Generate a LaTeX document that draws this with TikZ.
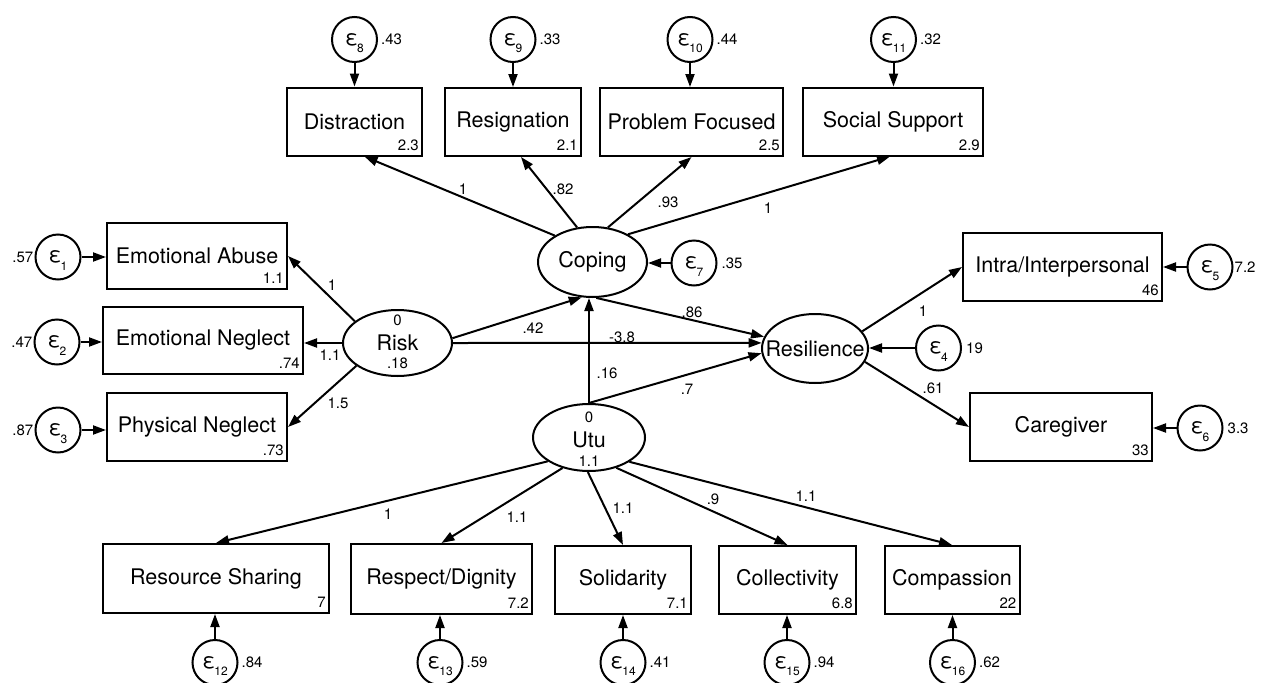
\documentclass[tikz,border=0pt]{standalone}
\usepackage{fontspec}
\setmainfont{TeX Gyre Heros}
\usetikzlibrary{shapes.geometric,arrows.meta,calc}
\newcommand{\bigf}{\fontsize{21.5}{25}\selectfont}
\newcommand{\smf}{\fontsize{15}{17}\selectfont}
\newcommand{\eps}[1]{ε\raisebox{-7.5pt}[0pt][0pt]{\kern-1pt\fontsize{12}{12}\selectfont #1}}
\tikzset{
  obs/.style={draw, line width=2pt, rectangle, minimum height=68pt, inner sep=0pt, font=\bigf},
  lat/.style={draw, line width=2pt, ellipse, inner sep=0pt, font=\bigf},
  err/.style={draw, line width=2pt, circle, minimum size=45pt, inner sep=0pt, font=\bigf},
  arr/.style={line width=2pt, -{Triangle[length=13pt,width=9pt]}},
  num/.style={inner sep=0pt, font=\smf},
  bnum/.style={num, anchor=south east},
}
\begin{document}
\begin{tikzpicture}[x=1pt,y=-1pt]
\path[use as bounding box] (0,0) rectangle (1262,683);
% observed boxes
\node[obs, minimum width=135pt] (dist) at (354.5,121.5) {Distraction};
\node[obs, minimum width=136pt] (resig) at (513,122) {Resignation};
\node[obs, minimum width=183pt] (prob) at (691.5,122) {Problem Focused};
\node[obs, minimum width=180pt] (soc) at (893,121.5) {Social Support};
\node[obs, minimum width=180pt, minimum height=66pt] (ea) at (197,256) {Emotional Abuse};
\node[obs, minimum width=200pt, minimum height=67pt] (en) at (203,340.5) {Emotional Neglect};
\node[obs, minimum width=180pt] (pn) at (197,427) {Physical Neglect};
\node[obs, minimum width=199pt] (intra) at (1062.5,267) {Intra/Interpersonal};
\node[obs, minimum width=182pt] (care) at (1061,427) {Caregiver};
\node[obs, minimum width=226pt, minimum height=69pt] (rs) at (216,578.5) {Resource Sharing};
\node[obs, minimum width=181pt, minimum height=70pt] (rd) at (441.5,579) {Respect/Dignity};
\node[obs, minimum width=136pt] (sol) at (623,580) {Solidarity};
\node[obs, minimum width=137pt] (col) at (787.5,580) {Collectivity};
\node[obs, minimum width=135pt] (comp) at (952,580) {Compassion};
% box numbers
\node[bnum] (distn) at ([xshift=-4pt,yshift=6pt]dist.south east) {2.3};
\node[bnum] (resign) at ([xshift=-4pt,yshift=6pt]resig.south east) {2.1};
\node[bnum] (probn) at ([xshift=-4pt,yshift=6pt]prob.south east) {2.5};
\node[bnum] (socn) at ([xshift=-4pt,yshift=6pt]soc.south east) {2.9};
\node[bnum] (ean) at ([xshift=-4pt,yshift=6pt]ea.south east) {1.1};
\node[bnum] (enn) at ([xshift=-4pt,yshift=6pt]en.south east) {.74};
\node[bnum] (pnn) at ([xshift=-4pt,yshift=6pt]pn.south east) {.73};
\node[bnum] (intran) at ([xshift=-4pt,yshift=6pt]intra.south east) {46};
\node[bnum] (caren) at ([xshift=-4pt,yshift=6pt]care.south east) {33};
\node[bnum] (rsn) at ([xshift=-4pt,yshift=6pt]rs.south east) {7};
\node[bnum] (rdn) at ([xshift=-4pt,yshift=6pt]rd.south east) {7.2};
\node[bnum] (soln) at ([xshift=-4pt,yshift=6pt]sol.south east) {7.1};
\node[bnum] (coln) at ([xshift=-4pt,yshift=6pt]col.south east) {6.8};
\node[bnum] (compn) at ([xshift=-4pt,yshift=6pt]comp.south east) {22};
% latent variables
\node[lat, minimum width=109pt, minimum height=70pt] (cop) at (592.5,262) {\makebox[0pt]{Coping}};
\node[lat, minimum width=109pt, minimum height=66pt] (risk) at (397.5,343) {\makebox[0pt]{Risk}};
\node[lat, minimum width=106pt, minimum height=69pt] (res) at (815,348.5) {\makebox[0pt]{Resilience}};
\node[lat, minimum width=112pt, minimum height=67pt] (utu) at (589,437.5) {};
\node[font=\bigf, inner sep=0pt] (utut) at (589,440) {Utu};
\node[num] (utu0) at (589,417) {0};
\node[num] (utuv) at (589,461) {1.1};
\node[num] (risk0) at (397.5,320) {0};
\node[num] (riskv) at (397.5,363) {.18};
% error terms
\node[err] (e1) at (58,257) {\eps{1}};
\node[err] (e2) at (57,342) {\eps{2}};
\node[err] (e3) at (58,430) {\eps{3}};
\node[err] (e4) at (938.5,348) {\eps{4}};
\node[err] (e5) at (1210,267) {\eps{5}};
\node[err] (e6) at (1200,428) {\eps{6}};
\node[err] (e7) at (694,263) {\eps{7}};
\node[err] (e8) at (354.5,39.5) {\eps{8}};
\node[err] (e9) at (513,39.5) {\eps{9}};
\node[err] (e10) at (690,39.5) {\eps{10}};
\node[err] (e11) at (893.5,39.5) {\eps{11}};
\node[err] (e12) at (215,662.5) {\eps{12}};
\node[err] (e13) at (440,662.5) {\eps{13}};
\node[err] (e14) at (623,662.5) {\eps{14}};
\node[err] (e15) at (787,662.5) {\eps{15}};
\node[err] (e16) at (952.5,662.5) {\eps{16}};
% error variances
\node[num, anchor=east] (v1) at ([xshift=-1pt]e1.west) {.57};
\node[num, anchor=east] (v2) at ([xshift=-1pt]e2.west) {.47};
\node[num, anchor=east] (v3) at ([xshift=-1pt]e3.west) {.87};
\node[num, anchor=west] (v4) at ([xshift=4pt]e4.east) {19};
\node[num, anchor=west] (v5) at ([xshift=1pt]e5.east) {7.2};
\node[num, anchor=west] (v6) at ([xshift=4pt]e6.east) {3.3};
\node[num, anchor=west] (v7) at ([xshift=4pt]e7.east) {.35};
\node[num, anchor=west] (v8) at ([xshift=3pt]e8.east) {.43};
\node[num, anchor=west] (v9) at ([xshift=3pt]e9.east) {.33};
\node[num, anchor=west] (v10) at ([xshift=3pt]e10.east) {.44};
\node[num, anchor=west] (v11) at ([xshift=3pt]e11.east) {.32};
\node[num, anchor=west] (v12) at ([xshift=3pt]e12.east) {.84};
\node[num, anchor=west] (v13) at ([xshift=3pt]e13.east) {.59};
\node[num, anchor=west] (v14) at ([xshift=3pt]e14.east) {.41};
\node[num, anchor=west] (v15) at ([xshift=3pt]e15.east) {.94};
\node[num, anchor=west] (v16) at ([xshift=3pt]e16.east) {.62};
% error arrows
\draw[arr] (e1.east) -- (e1.east -| ea.west);
\draw[arr] (e2.east) -- (e2.east -| en.west);
\draw[arr] (e3.east) -- (e3.east -| pn.west);
\draw[arr] (e4.west) -- (e4.west -| res.east);
\draw[arr] (e5.west) -- (e5.west -| intra.east);
\draw[arr] (e6.west) -- (e6.west -| care.east);
\draw[arr] (e7.west) -- (e7.west -| cop.east);
\draw[arr] (e8.south) -- (e8.south |- dist.north);
\draw[arr] (e9.south) -- (e9.south |- resig.north);
\draw[arr] (e10.south) -- (e10.south |- prob.north);
\draw[arr] (e11.south) -- (e11.south |- soc.north);
\draw[arr] (e12.north) -- (e12.north |- rs.south);
\draw[arr] (e13.north) -- (e13.north |- rd.south);
\draw[arr] (e14.north) -- (e14.north |- sol.south);
\draw[arr] (e15.north) -- (e15.north |- col.south);
\draw[arr] (e16.north) -- (e16.north |- comp.south);
% loadings
\draw[arr] (cop.145) -- ([xshift=10pt]dist.south);
\draw[arr] (cop.114) -- ([xshift=8pt]resig.south);
\draw[arr] (cop.66) -- (prob.south);
\draw[arr] (cop.38) -- ([xshift=-3pt]soc.south);
\draw[arr] (risk.153) -- (ea.east);
\draw[arr] (risk.west) -- (risk.west -| en.east);
\draw[arr] (risk.209) -- (pn.east);
\draw[arr] (res.20) -- (intra.west);
\draw[arr] (res.-15) -- (care.west);
\draw[arr] (utu.210) -- (rs.north);
\draw[arr] (utu.229) -- (rd.north);
\draw[arr] (utu.268) -- (sol.north);
\draw[arr] (utu.312) -- (col.north);
\draw[arr] (utu.329) -- (comp.north);
% structural paths
\draw[arr] (risk.5) -- (cop.253);
\draw[arr] (risk.east) -- (res.174);
\draw[arr] (cop.276) -- (res.167);
\draw[arr] (utu.north) -- (utu.north |- cop.south);
\draw[arr] (utu.north) -- (res.185);
% path labels
\node[num] (l1) at (463,189) {1};
\node[num] (l2) at (563,189) {.82};
\node[num] (l3) at (668,202) {.93};
\node[num] (l4) at (768,208) {1};
\node[num] (l5) at (332,285) {1};
\node[num] (l6) at (330,355) {1.1};
\node[num] (l7) at (338,403) {1.5};
\node[num] (l8) at (533,328) {.42};
\node[num] (l9) at (622,337) {-3.8};
\node[num] (l10) at (692,312) {.86};
\node[num] (l11) at (607,373) {.16};
\node[num] (l12) at (687,389) {.7};
\node[num] (l13) at (923,311) {1};
\node[num] (l14) at (933,388) {.61};
\node[num] (l15) at (388,514) {1};
\node[num] (l16) at (517,517) {1.1};
\node[num] (l17) at (623,508) {1.1};
\node[num] (l18) at (713,499) {.9};
\node[num] (l19) at (806,496) {1.1};
\end{tikzpicture}
\end{document}
